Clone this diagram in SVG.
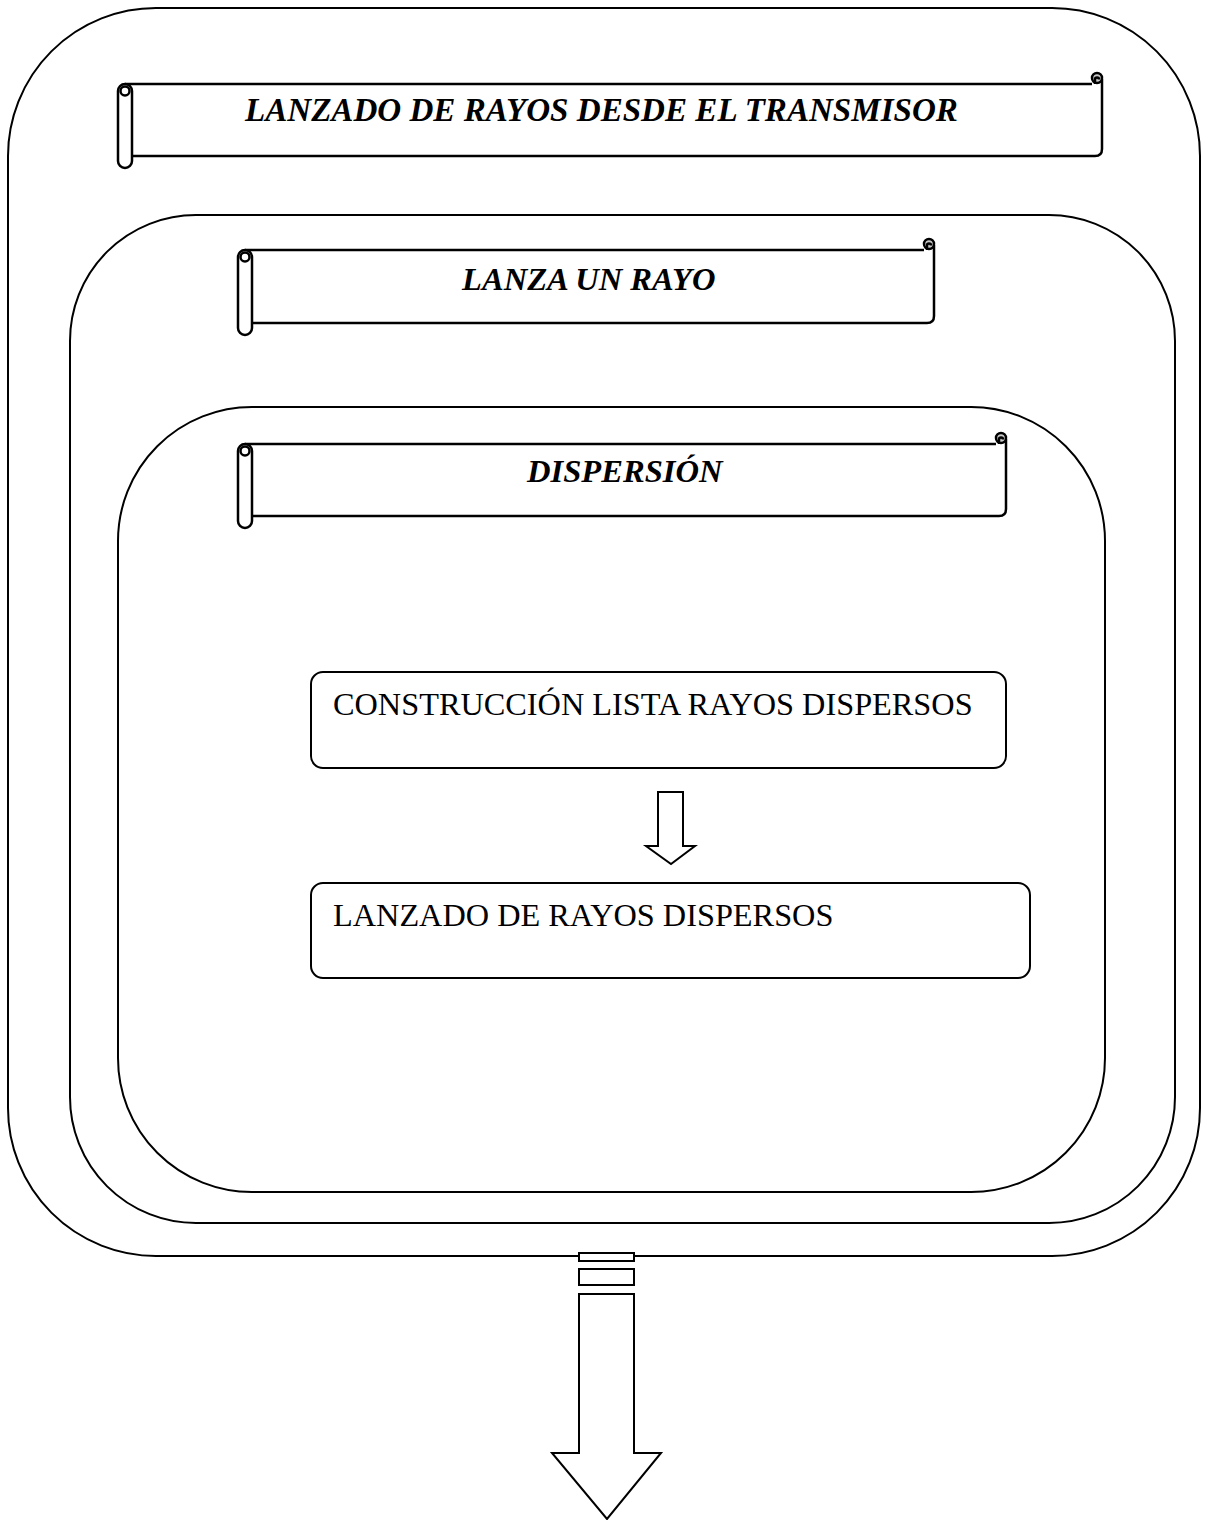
<svg xmlns="http://www.w3.org/2000/svg" width="1209" height="1520" viewBox="0 0 1209 1520">
<style>
.frame{fill:none;stroke:#000;stroke-width:2}
.box{fill:#fff;stroke:#000;stroke-width:2}
.scr{fill:#fff;stroke:#000;stroke-width:2.5}
.ln{fill:none;stroke:#000;stroke-width:2.5}
.curl{fill:#c8c8c8;stroke:#000;stroke-width:2.5}
.arr{fill:#fff;stroke:#000;stroke-width:2}
.title{font-family:"Liberation Serif","Times New Roman",serif;font-size:32.6px;font-weight:bold;font-style:italic;fill:#000}
.txt{font-family:"Liberation Serif","Times New Roman",serif;font-size:32.3px;fill:#000}
</style>
<rect width="1209" height="1520" fill="#fff"/>
<g id="outer"><rect class="frame" x="8" y="8" width="1192" height="1248" rx="148" ry="148"/></g>
<g id="middle"><rect class="frame" x="70" y="215" width="1105" height="1008" rx="126" ry="126"/></g>
<g id="inner"><rect class="frame" x="118" y="407" width="987" height="785" rx="134" ry="134"/></g>

<g id="banner1">
<path class="ln" d="M125,84 H1092 M1102,79 V149 Q1102,156 1095,156 H132"/>
<rect class="scr" x="118" y="84" width="14" height="84" rx="7"/>
<circle class="ln" cx="125" cy="91" r="4.5"/>
<circle class="curl" cx="1097" cy="78" r="5"/>
<path class="ln" d="M1095,84 V79.5 A2,2 0 0 1 1099,79.5"/>
<text class="title" x="245" y="121" style="font-size:33.1px">LANZADO DE RAYOS DESDE EL TRANSMISOR</text>
</g>

<g id="banner2">
<path class="ln" d="M245,250 H924 M934,245 V316 Q934,323 927,323 H252"/>
<rect class="scr" x="238" y="250" width="14" height="85" rx="7"/>
<circle class="ln" cx="245" cy="257" r="4.5"/>
<circle class="curl" cx="929" cy="244" r="5"/>
<path class="ln" d="M927,250 V245.5 A2,2 0 0 1 931,245.5"/>
<text class="title" x="462" y="290">LANZA UN RAYO</text>
</g>

<g id="banner3">
<path class="ln" d="M245,444 H996 M1006,439 V509 Q1006,516 999,516 H252"/>
<rect class="scr" x="238" y="444" width="14" height="84" rx="7"/>
<circle class="ln" cx="245" cy="451" r="4.5"/>
<circle class="curl" cx="1001" cy="438" r="5"/>
<path class="ln" d="M999,444 V439.5 A2,2 0 0 1 1003,439.5"/>
<text class="title" x="527" y="482">DISPERSIÓN</text>
</g>

<g id="box1">
<rect class="box" x="311" y="672" width="695" height="96" rx="12" ry="12"/>
<text class="txt" x="333" y="715">CONSTRUCCIÓN LISTA RAYOS DISPERSOS</text>
</g>
<g id="box2">
<rect class="box" x="311" y="883" width="719" height="95" rx="12" ry="12"/>
<text class="txt" x="333" y="926">LANZADO DE RAYOS DISPERSOS</text>
</g>

<g id="connectors">
<path class="arr" d="M658,792 H683 V846 H695 L671,864 L646,846 H658 Z"/>
<rect class="arr" x="579" y="1253" width="55" height="8"/>
<rect class="arr" x="579" y="1269" width="55" height="16"/>
<path class="arr" d="M579,1294 H634 V1453 H661 L607,1519 L552,1453 H579 Z"/>
</g>
</svg>
